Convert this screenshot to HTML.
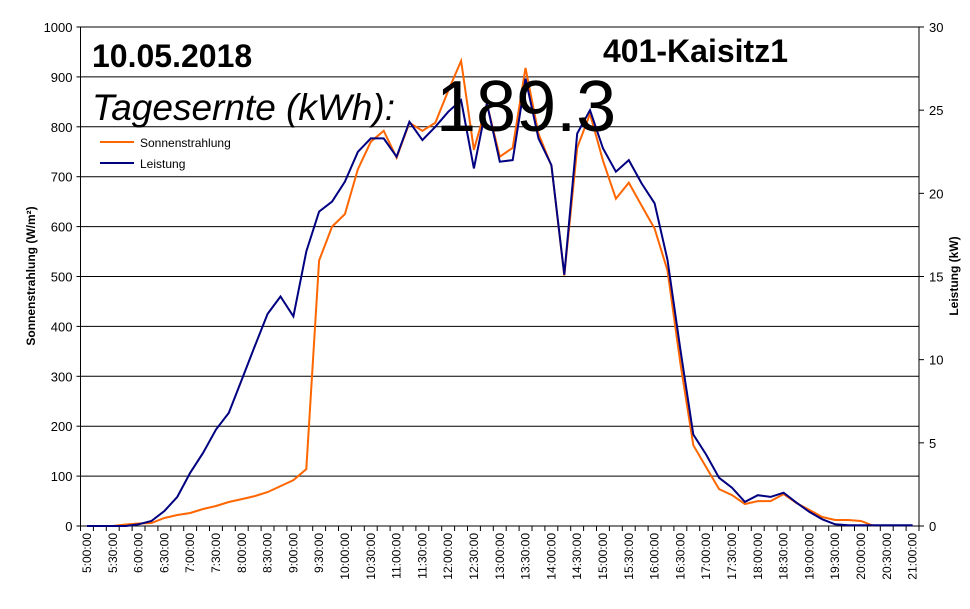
<!DOCTYPE html>
<html><head><meta charset="utf-8"><style>
body{margin:0;background:#fff;}
svg text{font-family:"Liberation Sans",Arial,sans-serif;}
</style></head><body>
<svg id="chart" width="970" height="604" xmlns="http://www.w3.org/2000/svg">
<g id="grid"></g><g id="axes"></g><g id="series"></g>
<text x="92" y="67" font-size="32" font-weight="bold">10.05.2018</text>
<text x="603" y="62" font-size="32" font-weight="bold">401-Kaisitz1</text>
<text x="92" y="120" font-size="37" font-style="italic">Tagesernte (kWh):</text>
<text x="436" y="131" font-size="72">189.3</text>
<g>
<line x1="100" y1="142" x2="134" y2="142" stroke="#ff6600" stroke-width="2"/>
<text x="140" y="147" font-size="12">Sonnenstrahlung</text>
<line x1="100" y1="163" x2="134" y2="163" stroke="#000080" stroke-width="2"/>
<text x="140" y="168" font-size="12">Leistung</text>
</g>
<text transform="translate(35,276) rotate(-90)" text-anchor="middle" font-size="12" font-weight="bold">Sonnenstrahlung (W/m²)</text>
<text transform="translate(958,276) rotate(-90)" text-anchor="middle" font-size="12" font-weight="bold">Leistung (kW)</text>
</svg>
<script>
const times=[];for(let h=5;h<=21;h++){for(const m of ["00","15","30","45"]){if(h===21&&m!=="00")break;times.push(h+":"+m+":00");}}
const leftTicks=[0,100,200,300,400,500,600,700,800,900,1000];
const rightTicks=[0,5,10,15,20,25,30];
const sonne=[null,null,0,3,5,6,16,22,26,34,40,48,54,60,68,80,92,114,532,600,625,715,770,792,738,808,792,808,872,932,754,846,740,758,918,786,722,502,758,826,732,656,688,642,596,512,326,162,118,74,62,44,50,50,64,46,32,18,12,12,10,0,null,null,null];
const leistung=[0,0,0,0,0.1,0.3,0.9,1.75,3.2,4.4,5.8,6.8,8.8,10.8,12.75,13.8,12.6,16.5,18.9,19.5,20.7,22.5,23.3,23.3,22.2,24.3,23.2,24,24.9,25.6,21.5,25.4,21.9,22.0,26.9,23.3,21.7,15.1,23.6,25.0,22.7,21.3,22.0,20.6,19.4,16.0,10.6,5.5,4.3,2.9,2.3,1.45,1.85,1.75,2.0,1.4,0.85,0.4,0.1,0.05,0.05,0.05,0.05,0.05,0.05];
const L=80.5,R=919,T=27,B=526,step=(R-L)/times.length;
const x=i=>L+step*(i+0.5), yL=v=>B-(v/1000)*(B-T), yR=v=>B-(v/30)*(B-T);
const NS="http://www.w3.org/2000/svg";
function mk(tag,attrs,parent,text){const e=document.createElementNS(NS,tag);for(const k in attrs)e.setAttribute(k,attrs[k]);if(text!==undefined)e.textContent=text;parent.appendChild(e);return e;}
const grid=document.getElementById('grid'),axes=document.getElementById('axes'),ser=document.getElementById('series');
leftTicks.forEach(v=>{
 const g=mk('line',{x1:L,x2:R,y1:yL(v),y2:yL(v),stroke:'#000','stroke-width':1},grid);
 
 
 const t=mk('text',{x:L-8,y:yL(v)+5,'text-anchor':'end','font-size':13},axes,String(v));
 
 
 mk('line',{x1:L-4,x2:L,y1:yL(v),y2:yL(v),stroke:'#000'},axes);
});
rightTicks.forEach(v=>{
 mk('line',{x1:R,x2:R+5,y1:yR(v),y2:yR(v),stroke:'#000'},axes);
 const t=mk('text',{x:R+10,y:yR(v)+5,'font-size':13},axes,String(v));
 
 
});
mk('line',{x1:L,x2:L,y1:T,y2:B,stroke:'#000'},axes);
mk('line',{x1:R,x2:R,y1:T,y2:B,stroke:'#000'},axes);
for(let i=0;i<=times.length;i++){const xx=L+step*i;mk('line',{x1:xx,x2:xx,y1:B,y2:B+5,stroke:'#000'},axes);}
times.forEach((tm,i)=>{if(i%2)return;
 const t=mk('text',{transform:`translate(${x(i)+4},${B+7}) rotate(-90)`,'text-anchor':'end','font-size':12},axes,tm);
 
 
});
function path(arr,yf){let d='',pen=false;arr.forEach((v,i)=>{if(v===null){pen=false;return;}d+=(pen?'L':'M')+x(i).toFixed(1)+','+yf(v).toFixed(1);pen=true;});return d;}
const p1=mk('path',{d:path(sonne,yL),fill:'none',stroke:'#ff6600','stroke-width':2},ser);


const p2=mk('path',{d:path(leistung,yR),fill:'none',stroke:'#000080','stroke-width':2},ser);


</script>
</body></html>
